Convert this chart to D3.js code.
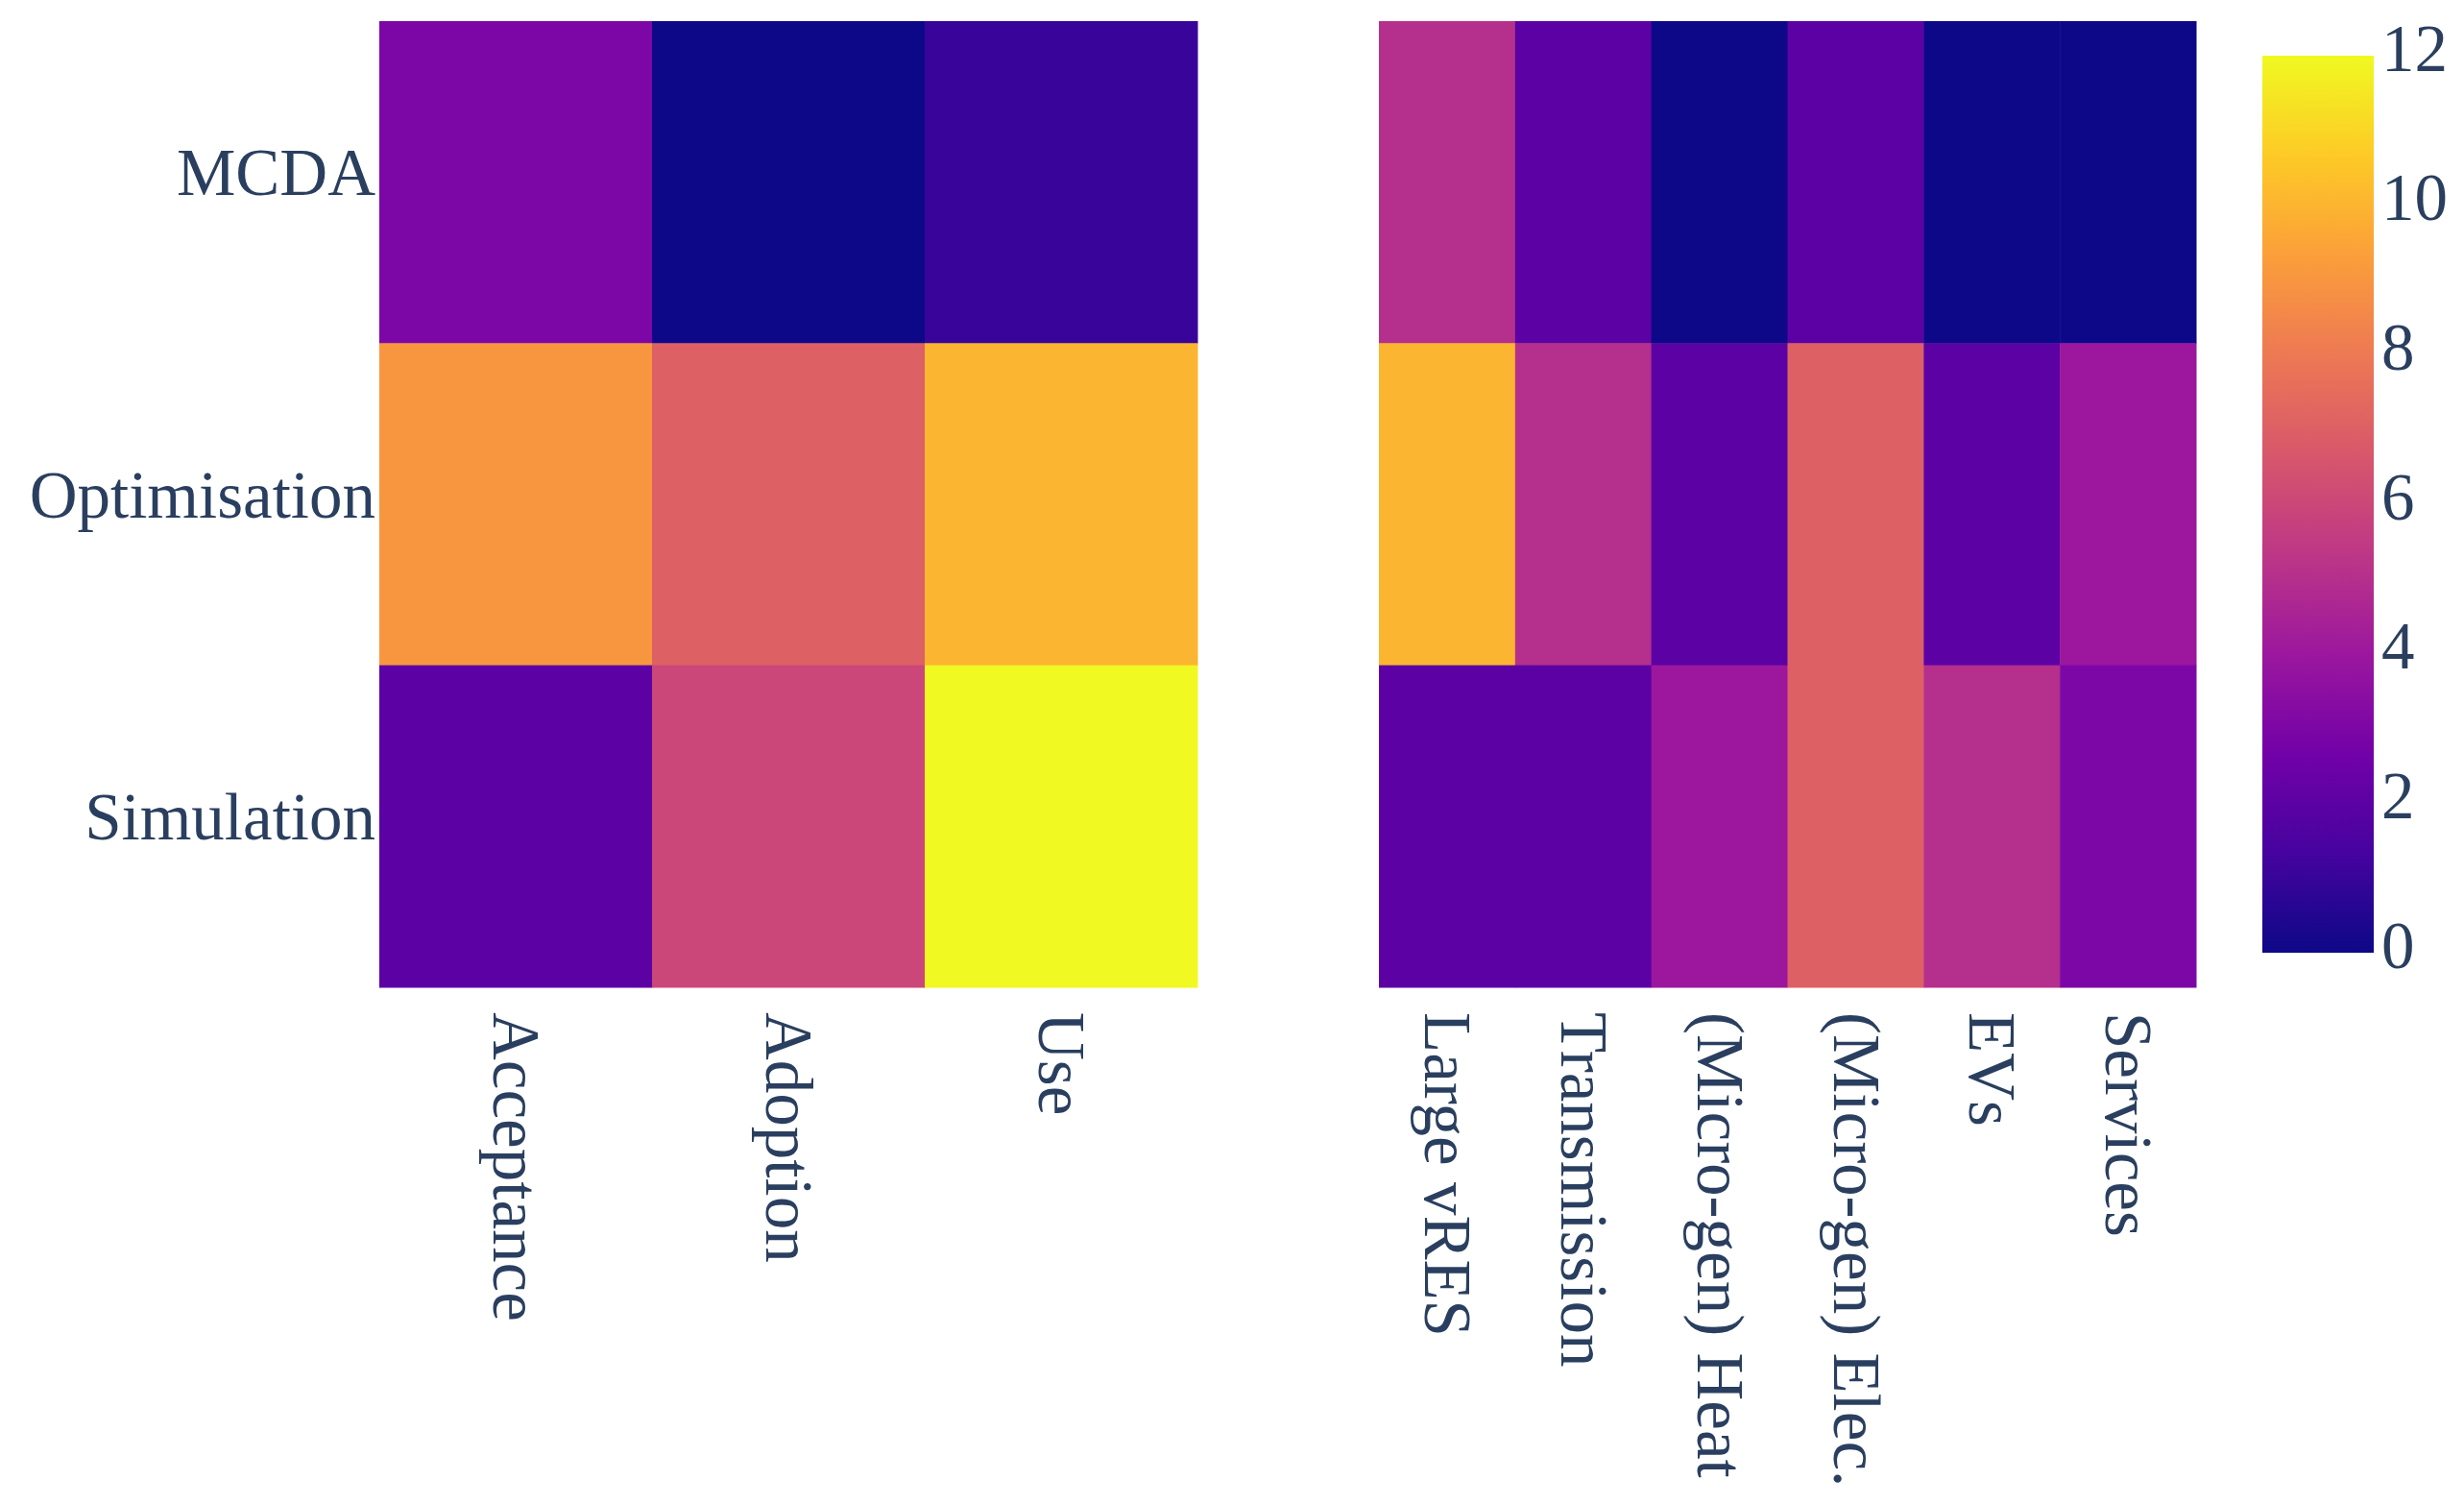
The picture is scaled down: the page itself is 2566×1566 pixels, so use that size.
<!DOCTYPE html>
<html>
<head>
<meta charset="utf-8">
<script src="https://d3js.org/d3.v7.min.js"></script>
<style>
  body { margin: 0; background: #fff; }
  text { font-family: "Liberation Serif", "DejaVu Serif", serif; fill: #2a3f5f; }
</style>
</head>
<body>
<svg id="chart" width="2566" height="1566"></svg>
<script>
// data
const methods = ["MCDA", "Optimisation", "Simulation"];
const stages = ["Acceptance", "Adoption", "Use"];
const techs = ["Large vRES", "Transmission", "(Micro-gen) Heat", "(Micro-gen) Elec.", "EVs", "Services"];

const stageValues = [
  [3, 0, 1],      // MCDA
  [9, 7, 10],     // Optimisation
  [2, 6, 12]      // Simulation
];
const techValues = [
  [5, 2, 0, 2, 0, 0],
  [10, 5, 2, 7, 2, 4],
  [2, 2, 4, 7, 5, 3]
];
const cbTicks = [0, 2, 4, 6, 8, 10, 12];

// plotly "Plasma" colorscale
const plasma = ["#0d0887", "#46039f", "#7201a8", "#9c179e", "#bd3786",
                "#d8576b", "#ed7953", "#fb9f3a", "#fdca26", "#f0f921"];
const zmin = 0, zmax = 12;

const svg = d3.select("#chart");
const fontSize = 69;

const color = d3.scaleLinear()
  .domain(plasma.map((d, i) => zmin + (zmax - zmin) * i / (plasma.length - 1)))
  .range(plasma)
  .interpolate(d3.interpolateRgb);

const plotTop = 22, plotBottom = 1028;
const y = d3.scaleBand().domain(methods).range([plotTop, plotBottom]);

function panel(cats, values, x0, x1, showY) {
  const x = d3.scaleBand().domain(cats).range([x0, x1]);
  const g = svg.append("g");

  values.forEach((row, i) => {
    g.selectAll(null)
      .data(row)
      .join("rect")
      .attr("x", (d, j) => x(cats[j]))
      .attr("y", y(methods[i]))
      .attr("width", x.bandwidth() + 0.5)
      .attr("height", y.bandwidth() + 0.5)
      .attr("fill", d => color(d));
  });

  // x labels, rotated 90deg
  const xa = svg.append("g")
    .attr("transform", `translate(0,${plotBottom})`)
    .call(d3.axisBottom(x).tickSize(0).tickPadding(0));
  xa.select(".domain").remove();
  xa.selectAll("text")
    .attr("font-size", fontSize)
    .attr("font-family", null)
    .attr("transform", "rotate(90)")
    .attr("text-anchor", "start")
    .attr("x", 26)
    .attr("y", 0)
    .attr("dy", "0.33em");

  if (showY) {
    const ya = svg.append("g")
      .attr("transform", `translate(${x0},0)`)
      .call(d3.axisLeft(y).tickSize(0).tickPadding(4));
    ya.select(".domain").remove();
    ya.selectAll("text")
      .attr("font-size", fontSize)
      .attr("font-family", null)
      .attr("dy", "0.2em");
  }
}

panel(stages, stageValues, 395, 1247, true);
panel(techs, techValues, 1436, 2287, false);

// colorbar
const cbX = 2356, cbW = 116, cbTop = 58, cbBottom = 992;
const grad = svg.append("defs").append("linearGradient")
  .attr("id", "cbgrad")
  .attr("x1", 0).attr("y1", 1).attr("x2", 0).attr("y2", 0);
grad.selectAll("stop")
  .data(plasma)
  .join("stop")
  .attr("offset", (d, i) => i / (plasma.length - 1))
  .attr("stop-color", d => d);

svg.append("rect")
  .attr("x", cbX).attr("y", cbTop)
  .attr("width", cbW).attr("height", cbBottom - cbTop)
  .attr("fill", "url(#cbgrad)");

const cbScale = d3.scaleLinear().domain([zmin, zmax]).range([cbBottom, cbTop]);
const ca = svg.append("g")
  .attr("transform", `translate(${cbX + cbW},0)`)
  .call(d3.axisRight(cbScale).tickValues(cbTicks).tickSize(0).tickPadding(8));
ca.select(".domain").remove();
ca.selectAll("text")
  .attr("font-size", fontSize)
  .attr("font-family", null)
  .attr("dy", "0.22em");
</script>
</body>
</html>
